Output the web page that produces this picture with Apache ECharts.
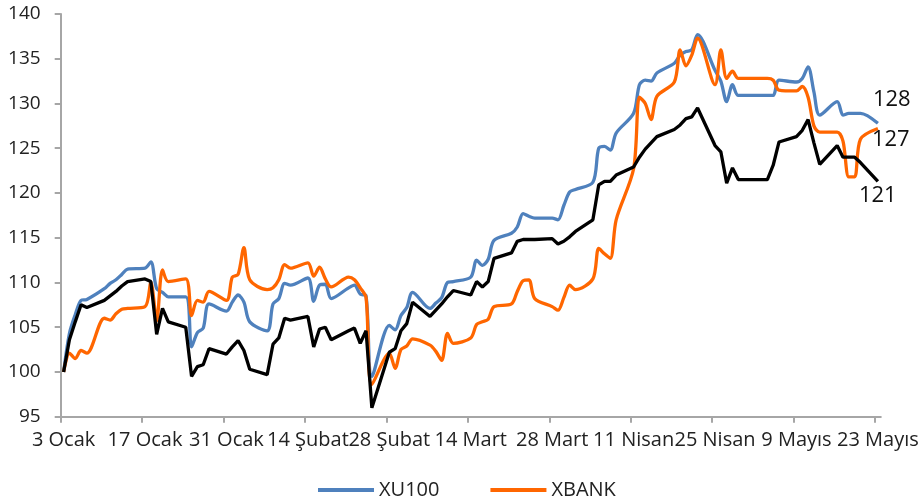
<!DOCTYPE html>
<html><head><meta charset="utf-8">
<script src="https://cdn.jsdelivr.net/npm/echarts@6/dist/echarts.min.js"></script>
<style>html,body{margin:0;padding:0;background:#fff}#c{width:920px;height:500px}</style>
</head><body><div id="c"></div>
<script>
// Trading days: every weekday from startDate to endDate (holidays carry the previous value)
const startDate = '2022-01-03';
const endDate = '2022-05-23';
const tickLabels = ['3 Ocak','17 Ocak','31 Ocak','14 Şubat','28 Şubat','14 Mart','28 Mart','11 Nisan','25 Nisan','9 Mayıs','23 Mayıs'];

const xu100 = [
  100.0, 104.3, 106.4, 108.0, 108.1,
  109.3, 109.9, 110.3, 110.9, 111.5,
  111.6, 112.3, 109.3, 108.9, 108.4,
  108.4, 102.8, 104.4, 104.9, 107.6,
  106.8, 107.8, 108.6, 107.8, 105.6,
  104.6, 107.6, 108.2, 109.9, 109.7,
  110.5, 107.9, 109.7, 109.8, 108.2,
  109.4, 109.7, 108.7, 108.5, 99.5,
  105.2, 104.7, 106.3, 107.2, 108.9,
  107.1, 107.7, 108.3, 110.0, 110.1,
  110.6, 112.5, 111.9, 112.6, 114.7,
  115.5, 116.2, 117.7, 117.4, 117.2,
  117.2, 117.0, 118.6, 120.1, 120.4,
  121.2, 125.0, 125.2, 124.8, 126.7,
  128.9, 132.1, 132.6, 132.5, 133.4,
  134.5, 135.4, 135.8, 136.0, 137.7,
  133.7, 132.5, 130.2, 132.1, 130.9,
  130.9, 130.9, 130.9, 130.9, 132.6,
  132.4, 132.8, 134.1, 131.3, 128.7,
  130.2, 128.7, 128.9, 128.9, 128.9,
  127.8
];

const xbank = [
  100.0, 102.1, 101.5, 102.4, 102.1,
  106.0, 105.8, 106.5, 107.0, 107.1,
  107.3, 110.0, 105.7, 111.4, 110.1,
  110.4, 106.3, 108.0, 107.8, 109.0,
  108.0, 110.6, 110.9, 113.9, 110.3,
  109.2, 109.4, 110.3, 112.0, 111.6,
  112.2, 110.7, 111.7, 110.4, 109.5,
  110.6, 110.3, 109.4, 108.3, 98.6,
  102.1, 100.4, 102.5, 102.9, 103.7,
  103.0, 102.3, 101.3, 104.3, 103.2,
  103.8, 105.3, 105.6, 105.9, 107.3,
  107.6, 109.0, 110.2, 110.3, 108.2,
  107.3, 106.9, 108.3, 109.7, 109.2,
  110.4, 113.8, 113.2, 112.7, 117.0,
  122.7, 130.7, 130.0, 128.2, 130.8,
  132.4, 136.0, 134.2, 135.4, 137.3,
  132.1, 136.0, 132.8, 133.6, 132.8,
  132.8, 132.8, 132.8, 132.6, 131.5,
  131.4, 131.9, 130.7, 127.5, 126.8,
  126.8, 125.8, 121.8, 121.8, 126.0,
  127.2
];

const third = [
  100.0, 103.6, 105.6, 107.5, 107.2,
  108.0, 108.5, 109.0, 109.6, 110.1,
  110.4, 110.1, 104.2, 107.1, 105.6,
  105.0, 99.5, 100.6, 100.8, 102.6,
  102.0, 102.8, 103.5, 102.4, 100.3,
  99.7, 103.1, 103.8, 106.0, 105.8,
  106.2, 102.8, 104.8, 105.0, 103.6,
  104.6, 104.9, 103.2, 104.6, 96.0,
  102.2, 102.6, 104.6, 105.4, 107.8,
  106.2, 106.9, 107.6, 108.4, 109.1,
  108.6, 110.1, 109.5, 110.1, 112.7,
  113.3, 114.6, 114.8, 114.8, 114.8,
  114.9, 114.3, 114.6, 115.1, 115.7,
  117.0, 120.9, 121.3, 121.3, 122.0,
  122.9, 124.0, 124.9, 125.6, 126.3,
  127.1, 127.6, 128.3, 128.5, 129.5,
  125.3, 124.6, 121.1, 122.8, 121.5,
  121.5, 121.5, 121.5, 123.1, 125.7,
  126.3, 127.0, 128.2, 125.6, 123.2,
  125.3, 124.0, 124.0, 124.0, 123.4,
  121.3
];

const DAY = 86400000;
function weekdayOffsets(s, e) {
  const t0 = Date.parse(s + 'T00:00:00Z'), t1 = Date.parse(e + 'T00:00:00Z');
  const out = [];
  for (let t = t0; t <= t1; t += DAY) {
    const wd = new Date(t).getUTCDay();
    if (wd !== 0 && wd !== 6) out.push((t - t0) / DAY);
  }
  return out;
}
const offsets = weekdayOffsets(startDate, endDate);
const spanDays = (Date.parse(endDate + 'T00:00:00Z') - Date.parse(startDate + 'T00:00:00Z')) / DAY + 1;
// each date sits in the middle of its day slot (date axis "between tick marks")
const pairs = arr => arr.map((v, i) => [offsets[i] + 0.5, v]);
const tickPos = tickLabels.map((_, k) => k * 14);
const labelPos = tickLabels.map((_, k) => k * 14 + 0.5);

const FONT = "'Open Sans', 'DejaVu Sans', sans-serif";
const axisGrey = '#a6a6a6';

const chart = echarts.init(document.getElementById('c'), null, {renderer: 'canvas'});
chart.setOption({
  animation: false,
  backgroundColor: '#ffffff',
  grid: {left: 60.7, right: 920 - 880.8, top: 14, bottom: 83.3, outerBoundsMode: 'none', containLabel: false},
  legend: {
    data: ['XU100', 'XBANK'],
    left: 313, top: 475,
    icon: 'rect', itemWidth: 56, itemHeight: 4, itemGap: 51,
    textStyle: {fontFamily: FONT, fontSize: 20, color: '#222'}
  },
  xAxis: {
    type: 'value', min: 0, max: spanDays, interval: 14,
    axisLine: {show: true, lineStyle: {color: axisGrey, width: 2}},
    axisTick: {show: true, length: 6, lineStyle: {color: axisGrey, width: 2}, customValues: tickPos},
    axisLabel: {
      customValues: labelPos, margin: 14,
      fontFamily: FONT, fontSize: 20, color: '#222',
      formatter: v => {
        if (v >= spanDays) return '';
        const k = Math.round((v - 0.5) / 14);
        return tickLabels[k] !== undefined ? tickLabels[k] : '';
      }
    },
    splitLine: {show: false}
  },
  yAxis: {
    type: 'value', min: 95, max: 140, interval: 5,
    axisLine: {show: true, lineStyle: {color: axisGrey, width: 2}},
    axisTick: {show: true, length: 6, lineStyle: {color: axisGrey, width: 2}},
    axisLabel: {fontFamily: FONT, fontSize: 19, color: '#222', margin: 20},
    splitLine: {show: false}
  },
  series: [
    {
      name: 'XU100', type: 'line', data: pairs(xu100), smooth: 0.3, symbol: 'none',
      color: '#4f81bd', lineStyle: {width: 3.3, color: '#4f81bd'},
      endLabel: {show: true, formatter: p => Math.round(p.value[1]), distance: 0, offset: [-5, -23],
        align: 'left', verticalAlign: 'middle', fontFamily: FONT, fontSize: 22, color: '#111'}
    },
    {
      name: 'XBANK', type: 'line', data: pairs(xbank), smooth: 0.3, symbol: 'none',
      color: '#ff6600', lineStyle: {width: 3.3, color: '#ff6600'},
      endLabel: {show: true, formatter: p => Math.round(p.value[1]), distance: 0, offset: [-6, 11.5],
        align: 'left', verticalAlign: 'middle', fontFamily: FONT, fontSize: 22, color: '#111'}
    },
    {
      name: 'Diğer', type: 'line', data: pairs(third), smooth: false, symbol: 'none',
      color: '#000000', lineStyle: {width: 3.3, color: '#000000'},
      endLabel: {show: true, formatter: p => Math.round(p.value[1]), distance: 0, offset: [-19, 14],
        align: 'left', verticalAlign: 'middle', fontFamily: FONT, fontSize: 22, color: '#111'}
    }
  ]
});
</script>
</body></html>
